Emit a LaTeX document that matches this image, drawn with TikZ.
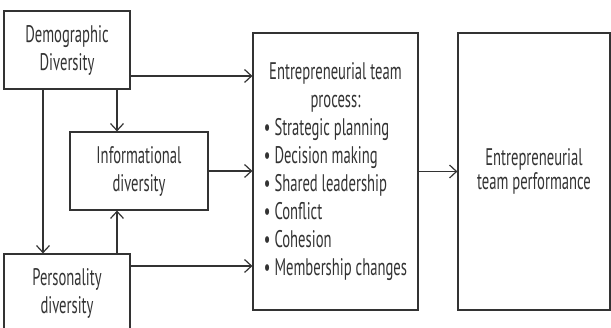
\documentclass[tikz,border=0pt]{standalone}
\usepackage{fontspec}
\setmainfont[FakeStretch=0.61]{PT Sans}
\usepackage{tikz}
\usetikzlibrary{
    arrows.meta,
    positioning,
    calc
}
\definecolor{inkgray}{rgb}{0.2, 0.2, 0.2}
\tikzstyle{factor} = [
    rectangle,
    draw=inkgray,
    line width=1.2pt,
    fill=white,
    inner sep=0pt,
    align=center,
    text=inkgray,
    font=\fontsize{24}{28}\selectfont
]
\tikzstyle{stage} = [
    factor,
    minimum height=277pt
]
\tikzstyle{arrow} = [
    -{Straight Barb[length=7pt,width=13pt]},
    line width=1.2pt,
    draw=inkgray
]

\begin{document}
\begin{tikzpicture}[x=1pt, y=-1pt]
    \clip (0,0) rectangle (611,328);
    \fill[white] (0,0) rectangle (611,328);
    % diversity inputs
    \node[factor, minimum width=126pt, minimum height=78pt] (demo) at (67,50) {Demographic\\Diversity};
    \node[factor, minimum width=138pt, minimum height=78pt] (info) at (139,171) {Informational\\diversity};
    \node[factor, minimum width=126pt, minimum height=78pt] (pers) at (67,293) {Personality\\diversity};
    % team process and outcome
    \node[stage, minimum width=165pt] (proc) at (335.5,171.5) {%
        \begin{tabular}{@{}l@{}}
        \multicolumn{1}{@{}c@{}}{Entrepreneurial team}\\
        \multicolumn{1}{@{}c@{}}{process:}\\
        • Strategic planning\\
        • Decision making\\
        • Shared leadership\\
        • Conflict\\
        • Cohesion\\
        • Membership changes
        \end{tabular}};
    \node[stage, minimum width=152pt, font=\fontsize{24}{23.5}\selectfont] (perf) at (534,171.5) {Entrepreneurial\\team performance};
    % links
    \draw[arrow] ([yshift=-26pt]demo.east) -- ([yshift=-26pt]demo.east -| proc.west);
    \draw[arrow] (info.east) -- (info.east -| proc.west);
    \draw[arrow] ([yshift=27pt]pers.east) -- ([yshift=27pt]pers.east -| proc.west);
    \draw[arrow] ([xshift=50pt]demo.south) -- ([xshift=50pt]demo.south |- info.north);
    \draw[arrow] ([xshift=-24pt]demo.south) -- ([xshift=-24pt]demo.south |- pers.north);
    \draw[arrow] ([xshift=50pt]pers.north) -- ([xshift=50pt]pers.north |- info.south);
    \draw[arrow] (proc.east) -- (proc.east -| perf.west);
\end{tikzpicture}
\end{document}
